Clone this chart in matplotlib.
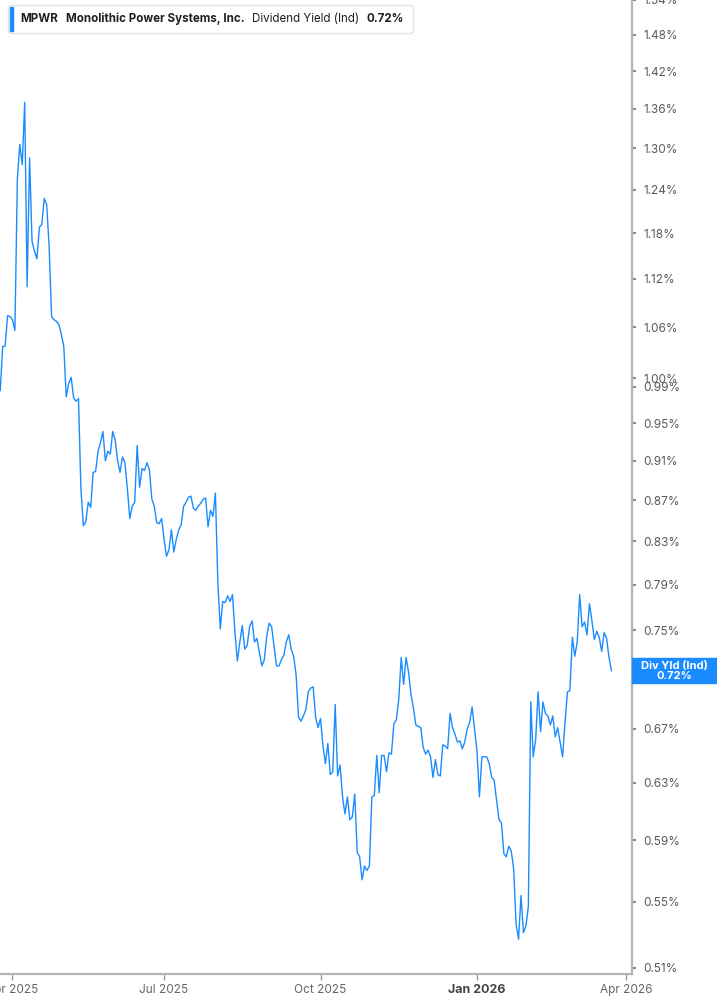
import matplotlib.pyplot as plt
import numpy as np
import pandas as pd
from matplotlib.offsetbox import TextArea, HPacker, DrawingArea, AnchoredOffsetbox
from matplotlib.patches import Rectangle
from matplotlib.ticker import NullLocator

plt.rcParams["font.family"] = ["Inter", "DejaVu Sans"]

BLUE = "#1a8cff"

# daily dividend yield (indicated), %, trading days from 2025-03-25
div_yield = [
    0.986, 1.037, 1.037, 1.074, 1.073, 1.069, 1.056, 1.255, 1.306, 1.276,
    1.370, 1.110, 1.286, 1.169, 1.156, 1.146, 1.188, 1.192, 1.228, 1.219,
    1.162, 1.073, 1.069, 1.067, 1.063, 1.051, 1.037, 0.979, 0.994, 1.001,
    0.978, 0.974, 0.977, 0.881, 0.845, 0.849, 0.868, 0.863, 0.898, 0.899,
    0.920, 0.929, 0.941, 0.910, 0.920, 0.917, 0.941, 0.932, 0.910, 0.898,
    0.914, 0.908, 0.881, 0.852, 0.864, 0.868, 0.926, 0.883, 0.902, 0.900,
    0.908, 0.901, 0.871, 0.864, 0.848, 0.847, 0.852, 0.832, 0.816, 0.822,
    0.841, 0.820, 0.832, 0.841, 0.846, 0.864, 0.868, 0.873, 0.874, 0.862,
    0.860, 0.864, 0.867, 0.871, 0.872, 0.844, 0.860, 0.854, 0.877, 0.792,
    0.751, 0.775, 0.774, 0.780, 0.775, 0.781, 0.748, 0.724, 0.740, 0.754,
    0.734, 0.737, 0.753, 0.758, 0.740, 0.743, 0.731, 0.720, 0.725, 0.745,
    0.756, 0.753, 0.736, 0.720, 0.720, 0.725, 0.729, 0.740, 0.746, 0.734,
    0.728, 0.713, 0.679, 0.676, 0.680, 0.685, 0.699, 0.702, 0.703, 0.679,
    0.671, 0.678, 0.657, 0.644, 0.659, 0.636, 0.638, 0.689, 0.635, 0.643,
    0.620, 0.608, 0.620, 0.604, 0.606, 0.622, 0.582, 0.579, 0.564, 0.573,
    0.570, 0.573, 0.620, 0.621, 0.650, 0.623, 0.650, 0.650, 0.638, 0.652,
    0.651, 0.674, 0.677, 0.693, 0.727, 0.705, 0.727, 0.715, 0.697, 0.686,
    0.673, 0.672, 0.671, 0.656, 0.651, 0.654, 0.649, 0.634, 0.647, 0.636,
    0.635, 0.658, 0.657, 0.655, 0.682, 0.671, 0.666, 0.660, 0.661, 0.655,
    0.660, 0.670, 0.675, 0.687, 0.670, 0.653, 0.620, 0.649, 0.649, 0.649,
    0.644, 0.634, 0.632, 0.618, 0.604, 0.602, 0.581, 0.579, 0.586, 0.583,
    0.571, 0.536, 0.527, 0.554, 0.531, 0.535, 0.547, 0.691, 0.649, 0.662,
    0.699, 0.668, 0.691, 0.682, 0.680, 0.673, 0.680, 0.664, 0.671, 0.660,
    0.649, 0.675, 0.699, 0.700, 0.744, 0.728, 0.740, 0.781, 0.753, 0.757,
    0.746, 0.773, 0.758, 0.742, 0.749, 0.744, 0.732, 0.748, 0.743, 0.727,
    0.716,
]

holidays = ["2025-04-18", "2025-05-26", "2025-06-19", "2025-07-04", "2025-09-01",
            "2025-11-27", "2025-12-25", "2026-01-01", "2026-01-19", "2026-02-16"]
start_date = "2025-03-25"

tick_months = ["2025-04-01", "2025-07-01", "2025-10-01", "2026-01-01", "2026-04-01"]
tick_labels = ["Apr 2025", "Jul 2025", "Oct 2025", "Jan 2026", "Apr 2026"]

y_ticks = [0.51, 0.55, 0.59, 0.63, 0.67, 0.71, 0.75, 0.79, 0.83, 0.87, 0.91,
           0.95, 0.99, 1.00, 1.06, 1.12, 1.18, 1.24, 1.30, 1.36, 1.42, 1.48, 1.54]

ticker_name = "MPWR"
company = "Monolithic Power Systems, Inc."
metric = "Dividend Yield (Ind)"
last_label = "0.72%"


def run():
    # trading-day axis (the chart skips weekends and holidays)
    calendar = pd.bdate_range(start_date, "2026-04-30", freq="C", holidays=holidays)
    tick_pos = [calendar.searchsorted(pd.Timestamp(m)) for m in tick_months]
    x = np.arange(len(div_yield))

    W, H = 717, 1005
    fig = plt.figure(figsize=(W / 100, H / 100), dpi=100)
    ax = fig.add_axes([0, 31 / H, 632 / W, 974 / H])

    ax.plot(x, div_yield, color=BLUE, lw=1.0)

    ax.set_yscale("log")
    ax.set_ylim(0.5065, 1.54)
    ax.set_xlim(-0.1, 258.4)
    ax.yaxis.tick_right()
    ax.set_yticks(y_ticks)
    ax.set_yticklabels([f"{t:.2f}%" for t in y_ticks])
    ax.yaxis.set_minor_locator(NullLocator())
    ax.tick_params(axis="y", length=3, width=1.5, color="#8a8a8a", pad=5,
                   labelsize=8.5, labelcolor="#5a5a5a")

    ax.set_xticks(tick_pos)
    ax.set_xticklabels(tick_labels)
    ax.tick_params(axis="x", length=4, width=1, color="#9a9a9a", pad=3,
                   labelsize=8.5, labelcolor="#666666")
    for lab in ax.get_xticklabels():
        if lab.get_text() == "Jan 2026":
            lab.set_fontweight("bold")
            lab.set_color("#444444")
            lab.set_fontsize(9)

    for side in ["left", "top"]:
        ax.spines[side].set_visible(False)
    for side in ["right", "bottom"]:
        ax.spines[side].set_color("#b5b5b5")
        ax.spines[side].set_linewidth(1.6)

    # header box
    bar = DrawingArea(2.2, 17.3)
    bar.add_artist(Rectangle((0, 0), 2.2, 17.3, color=BLUE))
    txt = dict(color="#1f1f1f", fontsize=8.3)
    parts = [
        bar,
        TextArea(ticker_name, textprops=dict(fontweight="bold", **txt)),
        TextArea(company, textprops=dict(fontweight="bold", **txt)),
        TextArea(metric, textprops=dict(**txt)),
        TextArea(last_label, textprops=dict(fontweight="bold", **txt)),
        DrawingArea(0.1, 1),
    ]
    pack = HPacker(children=parts, align="center", pad=0, sep=5.3)
    header = AnchoredOffsetbox(loc="upper left", child=pack, pad=0.15, borderpad=0,
                               frameon=True, bbox_to_anchor=(8 / W, 1 - 5 / H),
                               bbox_transform=fig.transFigure)
    header.patch.set_boxstyle("round,pad=0,rounding_size=0.25")
    header.patch.set_edgecolor("#e2e2e2")
    header.patch.set_linewidth(1)
    fig.add_artist(header)

    # last value marker on the right axis
    y_disp = ax.transData.transform((0, div_yield[-1]))[1]
    fig.add_artist(Rectangle((632 / W, (y_disp - 12.5) / H), 85 / W, 25 / H,
                             transform=fig.transFigure, color=BLUE, zorder=5))
    fig.text(674.5 / W, y_disp / H, "Div Yld (Ind)\n" + last_label, ha="center",
             va="center", color="white", fontweight="bold", fontsize=8,
             linespacing=1.05, zorder=6)

    fig.savefig("out.png", dpi=100)


if __name__ == "__main__":
    run()
